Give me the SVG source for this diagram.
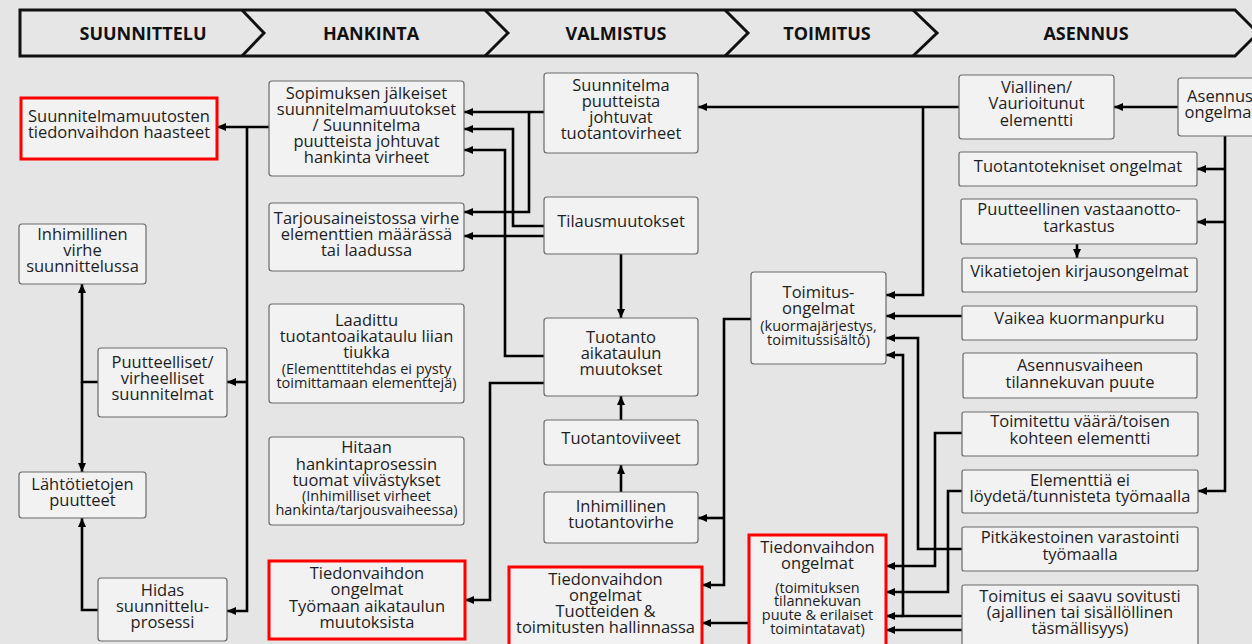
<svg xmlns="http://www.w3.org/2000/svg" width="1252" height="644" viewBox="0 0 1252 644">
  <defs>
    <marker id="arrow" markerUnits="userSpaceOnUse" markerWidth="9" markerHeight="8" refX="9" refY="4" orient="auto">
      <path d="M0,0 L9,4 L0,8 z" fill="#000"/>
    </marker>
    <style>
      .bg { fill: #e5e5e5; }
      .band { fill: #e6e6e6; stroke: #111; stroke-width: 3; stroke-linejoin: miter; }
      .div { fill: none; stroke: #111; stroke-width: 3; }
      .phase { font-family: "Open Sans", "Liberation Sans", sans-serif; font-weight: bold; font-size: 18px; fill: #111; text-anchor: middle; }
      .box { fill: #f2f2f2; stroke: #6a6a6a; stroke-width: 1.2; }
      .hot { fill: #f2f2f2; stroke: #ff0000; stroke-width: 3; }
      text.t { font-family: "Open Sans", "Liberation Sans", sans-serif; font-size: 16.5px; fill: #1e1e1e; text-anchor: middle; }
      tspan.s { font-size: 14.5px; }
      .wire { fill: none; stroke: #000; stroke-width: 2.6; stroke-linejoin: miter; }
    </style>
  </defs>

  <rect class="bg" x="0" y="0" width="1252" height="644"/>

  <!-- phase ribbon -->
  <g id="phases">
    <path class="band" d="M20,10 H1235 L1258,33 L1235,56 H20 Z"/>
    <path class="div" d="M242,10 L264,33 L242,56"/>
    <path class="div" d="M485,10 L508,33 L485,56"/>
    <path class="div" d="M725,10 L748,33 L725,56"/>
    <path class="div" d="M913,10 L937,33 L913,56"/>
    <text class="phase" x="143" y="39.5">SUUNNITTELU</text>
    <text class="phase" x="371" y="39.5">HANKINTA</text>
    <text class="phase" x="616" y="39.5">VALMISTUS</text>
    <text class="phase" x="827" y="39.5">TOIMITUS</text>
    <text class="phase" x="1086" y="39.5">ASENNUS</text>
  </g>

  <!-- connectors -->
  <g id="connectors">
    <!-- design column -->
    <path class="wire" d="M269,127 H217" marker-end="url(#arrow)"/>
    <path class="wire" d="M247,127 V611 H227" marker-end="url(#arrow)"/>
    <path class="wire" d="M247,382 H227" marker-end="url(#arrow)"/>
    <path class="wire" d="M98,382 H82 V284" marker-end="url(#arrow)"/>
    <path class="wire" d="M82,382 V472" marker-end="url(#arrow)"/>
    <path class="wire" d="M98,610 H82 V518" marker-end="url(#arrow)"/>

    <!-- manufacturing to procurement -->
    <path class="wire" d="M544,112 H464" marker-end="url(#arrow)"/>
    <path class="wire" d="M529,112 V212 H464" marker-end="url(#arrow)"/>
    <path class="wire" d="M544,226 H513 V129 H464" marker-end="url(#arrow)"/>
    <path class="wire" d="M544,236 H464" marker-end="url(#arrow)"/>
    <path class="wire" d="M544,356 H505 V150 H464" marker-end="url(#arrow)"/>
    <path class="wire" d="M544,383 H490 V600 H465" marker-end="url(#arrow)"/>
    <path class="wire" d="M621,254 V318" marker-end="url(#arrow)"/>
    <path class="wire" d="M621,420 V396" marker-end="url(#arrow)"/>
    <path class="wire" d="M621,492 V465" marker-end="url(#arrow)"/>

    <!-- delivery -->
    <path class="wire" d="M959,107 H698" marker-end="url(#arrow)"/>
    <path class="wire" d="M923,107 V295 H886" marker-end="url(#arrow)"/>
    <path class="wire" d="M962,316 H886" marker-end="url(#arrow)"/>
    <path class="wire" d="M962,549 H918 V338 H886" marker-end="url(#arrow)"/>
    <path class="wire" d="M962,616 H903 V355 H886" marker-end="url(#arrow)"/>
    <path class="wire" d="M903,616 H886" marker-end="url(#arrow)"/>
    <path class="wire" d="M962,630 H886" marker-end="url(#arrow)"/>
    <path class="wire" d="M962,433 H935 V566 H886" marker-end="url(#arrow)"/>
    <path class="wire" d="M962,491 H948 V592 H886" marker-end="url(#arrow)"/>
    <path class="wire" d="M751,319 H724 V585 H702" marker-end="url(#arrow)"/>
    <path class="wire" d="M724,518 H698" marker-end="url(#arrow)"/>
    <path class="wire" d="M749,623 H702" marker-end="url(#arrow)"/>

    <!-- installation -->
    <path class="wire" d="M1178,107 H1114" marker-end="url(#arrow)"/>
    <path class="wire" d="M1225,136 V491 H1198" marker-end="url(#arrow)"/>
    <path class="wire" d="M1225,169 H1197" marker-end="url(#arrow)"/>
    <path class="wire" d="M1225,222 H1197" marker-end="url(#arrow)"/>
    <path class="wire" d="M1077,244 V258" marker-end="url(#arrow)"/>
  </g>

  <!-- SUUNNITTELU -->
  <g id="n-suunnitelmamuutokset">
    <rect class="hot" x="21" y="98" width="196" height="61"/>
    <text class="t" y="122"><tspan x="119">Suunnitelmamuutosten</tspan><tspan x="119" dy="16">tiedonvaihdon haasteet</tspan></text>
  </g>
  <g id="n-inhimillinen-suunnittelu">
    <rect class="box" x="19" y="224" width="127" height="60" rx="3"/>
    <text class="t" y="240"><tspan x="82.5">Inhimillinen</tspan><tspan x="82.5" dy="16">virhe</tspan><tspan x="82.5" dy="16">suunnittelussa</tspan></text>
  </g>
  <g id="n-puutteelliset">
    <rect class="box" x="98" y="348" width="129" height="69" rx="3"/>
    <text class="t" y="368"><tspan x="162.5">Puutteelliset/</tspan><tspan x="162.5" dy="16">virheelliset</tspan><tspan x="162.5" dy="16">suunnitelmat</tspan></text>
  </g>
  <g id="n-lahtotiedot">
    <rect class="box" x="19" y="472" width="127" height="46" rx="3"/>
    <text class="t" y="490"><tspan x="82.5">Lähtötietojen</tspan><tspan x="82.5" dy="16">puutteet</tspan></text>
  </g>
  <g id="n-hidas">
    <rect class="box" x="98" y="578" width="129" height="63" rx="3"/>
    <text class="t" y="596"><tspan x="162.5">Hidas</tspan><tspan x="162.5" dy="16">suunnittelu-</tspan><tspan x="162.5" dy="16">prosessi</tspan></text>
  </g>

  <!-- HANKINTA -->
  <g id="n-sopimus">
    <rect class="box" x="269" y="81" width="195" height="95" rx="3"/>
    <text class="t" y="99"><tspan x="366.5">Sopimuksen jälkeiset</tspan><tspan x="366.5" dy="16">suunnitelmamuutokset</tspan><tspan x="366.5" dy="16">/ Suunnitelma</tspan><tspan x="366.5" dy="16">puutteista johtuvat</tspan><tspan x="366.5" dy="16">hankinta virheet</tspan></text>
  </g>
  <g id="n-tarjous">
    <rect class="box" x="269" y="203" width="195" height="68" rx="3"/>
    <text class="t" y="224"><tspan x="366.5">Tarjousaineistossa virhe</tspan><tspan x="366.5" dy="16">elementtien määrässä</tspan><tspan x="366.5" dy="16">tai laadussa</tspan></text>
  </g>
  <g id="n-laadittu">
    <rect class="box" x="269" y="304" width="195" height="99" rx="3"/>
    <text class="t" y="326"><tspan x="366.5">Laadittu</tspan><tspan x="366.5" dy="16">tuotantoaikataulu liian</tspan><tspan x="366.5" dy="16">tiukka</tspan><tspan class="s" x="366.5" dy="16">(Elementtitehdas ei pysty</tspan><tspan class="s" x="366.5" dy="14">toimittamaan elementtejä)</tspan></text>
  </g>
  <g id="n-hitaan">
    <rect class="box" x="269" y="437" width="195" height="88" rx="3"/>
    <text class="t" y="453"><tspan x="366.5">Hitaan</tspan><tspan x="366.5" dy="17">hankintaprosessin</tspan><tspan x="366.5" dy="16">tuomat viivästykset</tspan><tspan class="s" x="366.5" dy="15">(Inhimilliset virheet</tspan><tspan class="s" x="366.5" dy="14">hankinta/tarjousvaiheessa)</tspan></text>
  </g>
  <g id="n-tiedonvaihto-tyomaa">
    <rect class="hot" x="269" y="561" width="196" height="78"/>
    <text class="t" y="579"><tspan x="367">Tiedonvaihdon</tspan><tspan x="367" dy="16">ongelmat</tspan><tspan x="367" dy="17">Työmaan aikataulun</tspan><tspan x="367" dy="16">muutoksista</tspan></text>
  </g>

  <!-- VALMISTUS -->
  <g id="n-suunnitelma-tuotanto">
    <rect class="box" x="544" y="73" width="154" height="80" rx="3"/>
    <text class="t" y="91"><tspan x="621">Suunnitelma</tspan><tspan x="621" dy="16">puutteista</tspan><tspan x="621" dy="16">johtuvat</tspan><tspan x="621" dy="16">tuotantovirheet</tspan></text>
  </g>
  <g id="n-tilaus">
    <rect class="box" x="544" y="197" width="154" height="57" rx="3"/>
    <text class="t" x="621" y="227">Tilausmuutokset</text>
  </g>
  <g id="n-aikataulu">
    <rect class="box" x="544" y="318" width="154" height="78" rx="3"/>
    <text class="t" y="343"><tspan x="621">Tuotanto</tspan><tspan x="621" dy="16">aikataulun</tspan><tspan x="621" dy="16">muutokset</tspan></text>
  </g>
  <g id="n-viiveet">
    <rect class="box" x="544" y="420" width="154" height="45" rx="3"/>
    <text class="t" x="621" y="444">Tuotantoviiveet</text>
  </g>
  <g id="n-tuotantovirhe">
    <rect class="box" x="544" y="492" width="154" height="51" rx="3"/>
    <text class="t" y="512"><tspan x="621">Inhimillinen</tspan><tspan x="621" dy="16">tuotantovirhe</tspan></text>
  </g>
  <g id="n-tiedonvaihto-tuotteet">
    <rect class="hot" x="509" y="567" width="193" height="84"/>
    <text class="t" y="585"><tspan x="605.5">Tiedonvaihdon</tspan><tspan x="605.5" dy="16">ongelmat</tspan><tspan x="605.5" dy="16">Tuotteiden &amp;</tspan><tspan x="605.5" dy="16">toimitusten hallinnassa</tspan></text>
  </g>

  <!-- TOIMITUS -->
  <g id="n-toimitusongelmat">
    <rect class="box" x="751" y="272" width="135" height="92" rx="3"/>
    <text class="t" y="298"><tspan x="818.5">Toimitus-</tspan><tspan x="818.5" dy="16">ongelmat</tspan><tspan class="s" x="818.5" dy="17">(kuormajärjestys,</tspan><tspan class="s" x="818.5" dy="14">toimitussisältö)</tspan></text>
  </g>
  <g id="n-tiedonvaihto-toimitus">
    <rect class="hot" x="749" y="535" width="137" height="116"/>
    <text class="t" y="553"><tspan x="817.5">Tiedonvaihdon</tspan><tspan x="817.5" dy="16">ongelmat</tspan><tspan class="s" x="817.5" dy="24">(toimituksen</tspan><tspan class="s" x="817.5" dy="13">tilannekuvan</tspan><tspan class="s" x="817.5" dy="14">puute &amp; erilaiset</tspan><tspan class="s" x="817.5" dy="14">toimintatavat)</tspan></text>
  </g>

  <!-- ASENNUS -->
  <g id="n-viallinen">
    <rect class="box" x="959" y="75" width="155" height="64" rx="3"/>
    <text class="t" y="93"><tspan x="1036.5">Viallinen/</tspan><tspan x="1036.5" dy="16">Vaurioitunut</tspan><tspan x="1036.5" dy="17">elementti</tspan></text>
  </g>
  <g id="n-asennusongelmat">
    <rect class="box" x="1178" y="78" width="84" height="58" rx="3"/>
    <text class="t" y="102"><tspan x="1220">Asennus</tspan><tspan x="1221" dy="16">ongelmat</tspan></text>
  </g>
  <g id="n-tuotantotekniset">
    <rect class="box" x="959" y="152" width="238" height="34" rx="2"/>
    <text class="t" x="1078" y="172">Tuotantotekniset ongelmat</text>
  </g>
  <g id="n-vastaanotto">
    <rect class="box" x="961" y="199" width="236" height="45" rx="2"/>
    <text class="t" y="215"><tspan x="1079">Puutteellinen vastaanotto-</tspan><tspan x="1079" dy="17">tarkastus</tspan></text>
  </g>
  <g id="n-vikatiedot">
    <rect class="box" x="962" y="258" width="235" height="34" rx="2"/>
    <text class="t" x="1079.5" y="277">Vikatietojen kirjausongelmat</text>
  </g>
  <g id="n-kuormanpurku">
    <rect class="box" x="962" y="306" width="235" height="34" rx="2"/>
    <text class="t" x="1079.5" y="324">Vaikea kuormanpurku</text>
  </g>
  <g id="n-tilannekuva">
    <rect class="box" x="963" y="353" width="234" height="45" rx="2"/>
    <text class="t" y="371"><tspan x="1080">Asennusvaiheen</tspan><tspan x="1080" dy="17">tilannekuvan puute</tspan></text>
  </g>
  <g id="n-vaara-elementti">
    <rect class="box" x="962" y="412" width="236" height="44" rx="2"/>
    <text class="t" y="427"><tspan x="1080">Toimitettu väärä/toisen</tspan><tspan x="1080" dy="17">kohteen elementti</tspan></text>
  </g>
  <g id="n-ei-loydeta">
    <rect class="box" x="962" y="470" width="236" height="43" rx="2"/>
    <text class="t" y="486"><tspan x="1080">Elementtiä ei</tspan><tspan x="1080" dy="16">löydetä/tunnisteta työmaalla</tspan></text>
  </g>
  <g id="n-varastointi">
    <rect class="box" x="962" y="527" width="236" height="44" rx="2"/>
    <text class="t" y="543"><tspan x="1080">Pitkäkestoinen varastointi</tspan><tspan x="1080" dy="17">työmaalla</tspan></text>
  </g>
  <g id="n-ei-sovitusti">
    <rect class="box" x="962" y="585" width="236" height="66" rx="2"/>
    <text class="t" y="602"><tspan x="1080">Toimitus ei saavu sovitusti</tspan><tspan x="1080" dy="16">(ajallinen tai sisällöllinen</tspan><tspan x="1080" dy="16">täsmällisyys)</tspan></text>
  </g>
</svg>
